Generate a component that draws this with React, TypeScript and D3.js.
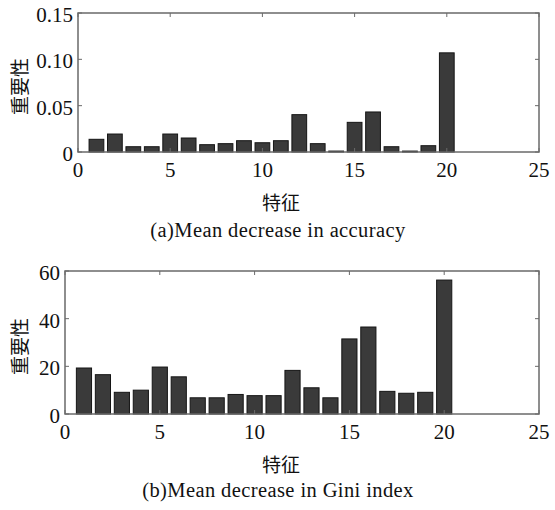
import React from 'react'
import * as d3 from 'd3'

// feature index 1..20
const features = d3.range(1, 21)

// (a) mean decrease in accuracy
const accuracy = [
  0.0137, 0.0194, 0.0057, 0.0057, 0.0194, 0.0151, 0.0079, 0.009, 0.0122, 0.010,
  0.0122, 0.0403, 0.009, 0.001, 0.032, 0.0432, 0.0057, 0.001, 0.0068, 0.107,
]

// (b) mean decrease in Gini index
const gini = [
  19.3, 16.5, 9.1, 10.0, 19.7, 15.6, 6.8, 6.8, 8.2, 7.7,
  7.7, 18.3, 11.0, 6.8, 31.5, 36.5, 9.5, 8.7, 9.1, 56.2,
]

const xTicks = [0, 5, 10, 15, 20, 25]
const yTicksA = [0, 0.05, 0.1, 0.15]
const yTicksAText = ['0', '0.05', '0.10', '0.15']
const yTicksB = [0, 20, 40, 60]

const serif = { fontFamily: "'Liberation Serif', 'Times New Roman', 'DejaVu Serif', serif" }
const cjk = { fontFamily: "'Noto Sans CJK SC', sans-serif" }

function Panel({ values, box, yMax, yTicks, yText, caption, captionY, xLabelY }) {
  const { left, right, top, bottom } = box
  const x = d3.scaleLinear().domain([0, 25]).range([left, right])
  const y = d3.scaleLinear().domain([0, yMax]).range([bottom, top])
  const bw = x(0.8) - x(0)
  const tick = 4
  const axisColor = '#6a6a6a'

  return (
    <g>
      {values.map((v, i) => (
        <rect
          key={i}
          x={x(features[i]) - bw / 2}
          y={y(v)}
          width={bw}
          height={bottom - y(v)}
          fill="#3a3a3a"
          stroke="#151515"
          strokeWidth={1}
        />
      ))}
      <rect x={left} y={top} width={right - left} height={bottom - top}
        fill="none" stroke={axisColor} strokeWidth={1.5} />
      {xTicks.map(t => (
        <g key={'x' + t}>
          <line x1={x(t)} x2={x(t)} y1={top} y2={top + tick} stroke={axisColor} />
          <line x1={x(t)} x2={x(t)} y1={bottom} y2={bottom - tick} stroke={axisColor} />
          <text x={x(t)} y={bottom + 24.5} textAnchor="middle" style={serif} fontSize={21} fill="#111">{t}</text>
        </g>
      ))}
      {yTicks.map((t, i) => (
        <g key={'y' + t}>
          <line x1={right} x2={right - tick} y1={y(t)} y2={y(t)} stroke={axisColor} />
          <line x1={left} x2={left + tick} y1={y(t)} y2={y(t)} stroke={axisColor} />
          <text x={left - 5} y={y(t) + 9} textAnchor="end" style={serif} fontSize={21} fill="#111">{yText[i]}</text>
        </g>
      ))}
      <text
        transform={`translate(${27},${(top + bottom) / 2 + 4}) rotate(-90)`}
        textAnchor="middle" style={cjk} fontSize={19} fill="#111">重要性</text>
      <text x={281} y={xLabelY} textAnchor="middle" style={cjk} fontSize={19} fill="#111">特征</text>
      <text x={278} y={captionY} textAnchor="middle" style={{ ...serif, letterSpacing: 0.4 }} fontSize={20.5} fill="#111">{caption}</text>
    </g>
  )
}

export default function App() {
  return (
    <svg width={555} height={510} style={{ position: 'absolute', left: 0, top: 0, background: '#fff' }}>
      <Panel
        values={accuracy}
        box={{ left: 78, right: 539, top: 13, bottom: 152 }}
        yMax={0.15}
        yTicks={yTicksA}
        yText={yTicksAText}
        caption="(a)Mean decrease in accuracy"
        captionY={237}
        xLabelY={210}
      />
      <Panel
        values={gini}
        box={{ left: 65, right: 539, top: 271, bottom: 414 }}
        yMax={60}
        yTicks={yTicksB}
        yText={yTicksB.map(String)}
        caption="(b)Mean decrease in Gini index"
        captionY={497}
        xLabelY={472}
      />
    </svg>
  )
}
